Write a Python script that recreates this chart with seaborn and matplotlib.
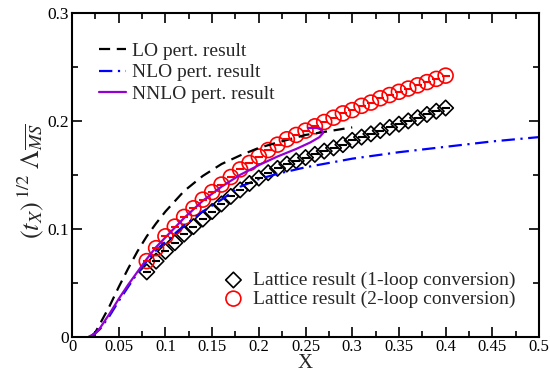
import numpy as np
import pandas as pd
import matplotlib
matplotlib.use("Agg")
import matplotlib.pyplot as plt
import seaborn as sns

sns.set_style("ticks")
plt.rcParams["font.family"] = ["Liberation Serif", "DejaVu Serif"]
plt.rcParams["mathtext.fontset"] = "stix"

# lattice data (x = 0.08 ... 0.40)
lat_x = [0.08, 0.09, 0.10, 0.11, 0.12, 0.13, 0.14, 0.15, 0.16, 0.17, 0.18,
         0.19, 0.20, 0.21, 0.22, 0.23, 0.24, 0.25, 0.26, 0.27, 0.28, 0.29,
         0.30, 0.31, 0.32, 0.33, 0.34, 0.35, 0.36, 0.37, 0.38, 0.39, 0.40]
lat_1loop = [0.060, 0.070, 0.079, 0.087, 0.095, 0.102, 0.109, 0.116, 0.123,
             0.130, 0.136, 0.142, 0.147, 0.152, 0.156, 0.160, 0.163, 0.166,
             0.169, 0.172, 0.175, 0.178, 0.182, 0.185, 0.188, 0.191, 0.194,
             0.197, 0.200, 0.203, 0.206, 0.209, 0.212]
lat_2loop = [0.070, 0.082, 0.093, 0.102, 0.111, 0.119, 0.127, 0.134, 0.141,
             0.148, 0.155, 0.161, 0.167, 0.173, 0.178, 0.183, 0.187, 0.191,
             0.195, 0.199, 0.203, 0.207, 0.210, 0.214, 0.217, 0.221, 0.224,
             0.227, 0.230, 0.233, 0.236, 0.239, 0.242]

# perturbative curves
lo_x = [0.020, 0.025, 0.030, 0.040, 0.050, 0.060, 0.070, 0.080, 0.090, 0.100,
        0.120, 0.140, 0.160, 0.180, 0.200, 0.220, 0.250, 0.300]
lo_y = [0.000, 0.004, 0.012, 0.028, 0.046, 0.063, 0.079, 0.093, 0.105, 0.116,
        0.135, 0.149, 0.160, 0.168, 0.175, 0.180, 0.187, 0.194]

nlo_x = [0.021, 0.030, 0.040, 0.050, 0.060, 0.070, 0.080, 0.090, 0.100, 0.120,
         0.140, 0.160, 0.180, 0.200, 0.220, 0.250, 0.300, 0.350, 0.400, 0.450,
         0.500]
nlo_y = [0.000, 0.007, 0.019, 0.033, 0.046, 0.059, 0.070, 0.080, 0.088, 0.103,
         0.116, 0.127, 0.139, 0.146, 0.151, 0.157, 0.165, 0.171, 0.176, 0.181,
         0.185]

nnlo_x = [0.018, 0.025, 0.030, 0.040, 0.050, 0.060, 0.070, 0.080, 0.090, 0.100,
          0.110, 0.120, 0.140, 0.160, 0.180, 0.200, 0.220, 0.240, 0.255, 0.265,
          0.269, 0.267, 0.262, 0.253]
nnlo_y = [0.000, 0.003, 0.008, 0.021, 0.035, 0.048, 0.060, 0.072, 0.083, 0.092,
          0.101, 0.110, 0.126, 0.139, 0.150, 0.159, 0.167, 0.174, 0.180, 0.185,
          0.189, 0.192, 0.1935, 0.1935]

lat = pd.DataFrame({"x": lat_x, "one": lat_1loop, "two": lat_2loop})

fig = plt.figure(figsize=(5.5, 3.74), dpi=100)
ax = fig.add_axes([0.131, 0.1, 0.849, 0.865])

sns.lineplot(x=lo_x, y=lo_y, ax=ax, color="black", lw=1.6,
             linestyle=(0, (5, 3)), label="LO pert. result",
             estimator=None, sort=False)
sns.lineplot(x=nlo_x, y=nlo_y, ax=ax, color="#0000ff", lw=1.6,
             linestyle=(0, (6, 2.5, 1, 2.5)), label="NLO pert. result",
             estimator=None, sort=False)
sns.lineplot(x=nnlo_x, y=nnlo_y, ax=ax, color="#9400d3", lw=1.6,
             label="NNLO pert. result", estimator=None, sort=False)

sns.scatterplot(data=lat, x="x", y="one", ax=ax, marker="D", s=62,
                facecolor="none", edgecolor="black", linewidth=1.2,
                label="Lattice result (1-loop conversion)")
sns.scatterplot(data=lat, x="x", y="two", ax=ax, marker="o", s=115,
                facecolor="none", edgecolor="red", linewidth=1.2,
                label="Lattice result (2-loop conversion)")
# short horizontal bars inside markers
ax.plot(lat["x"], lat["one"], ls="none", marker="_", ms=6, mew=1.5, color="black")
ax.plot(lat["x"], lat["two"], ls="none", marker="_", ms=6, mew=1.5, color="red")

ax.set_xlim(0, 0.5)
ax.set_ylim(0, 0.3)
ax.set_xticks(np.arange(0, 0.51, 0.05))
ax.set_xticklabels(["0", "0.05", "0.1", "0.15", "0.2", "0.25", "0.3", "0.35",
                    "0.4", "0.45", "0.5"])
ax.set_xticks(np.arange(0.025, 0.5, 0.05), minor=True)
ax.set_yticks([0, 0.1, 0.2, 0.3])
ax.set_yticklabels(["0", "0.1", "0.2", "0.3"])
ax.set_yticks([0.05, 0.15, 0.25], minor=True)
ax.tick_params(which="both", direction="in", top=True, right=True,
               labelsize=12.5, width=1.2, colors="black")
ax.tick_params(which="major", length=7, pad=2.5)
ax.tick_params(axis="x", which="major", labelsize=12, pad=2)
ax.tick_params(which="minor", length=4)
for sp in ax.spines.values():
    sp.set_linewidth(1.5)
    sp.set_color("black")

ax.set_xlabel("X", fontsize=15)
ax.xaxis.label.set_va("baseline")
ax.xaxis.set_label_coords(0.5, -0.0986)
ax.set_ylabel(r"$(t_X)^{\,1/2}\;\Lambda_{\overline{MS}}$", fontsize=19)
ax.yaxis.set_label_coords(-0.055, 0.48)

handles, labels = ax.get_legend_handles_labels()
leg1 = ax.legend(handles[:3], labels[:3], loc="upper left",
                 bbox_to_anchor=(0.04, 0.935), frameon=False, fontsize=14,
                 handlelength=1.4, handletextpad=0.3, labelspacing=0.22,
                 borderaxespad=0)
ax.add_artist(leg1)
ax.legend(handles[3:], labels[3:], loc="lower right",
          bbox_to_anchor=(0.966, 0.065), frameon=False, fontsize=14,
          handlelength=1.0, handletextpad=0.5, labelspacing=0.05,
          borderaxespad=0)

fig.savefig("out.png", dpi=100)
